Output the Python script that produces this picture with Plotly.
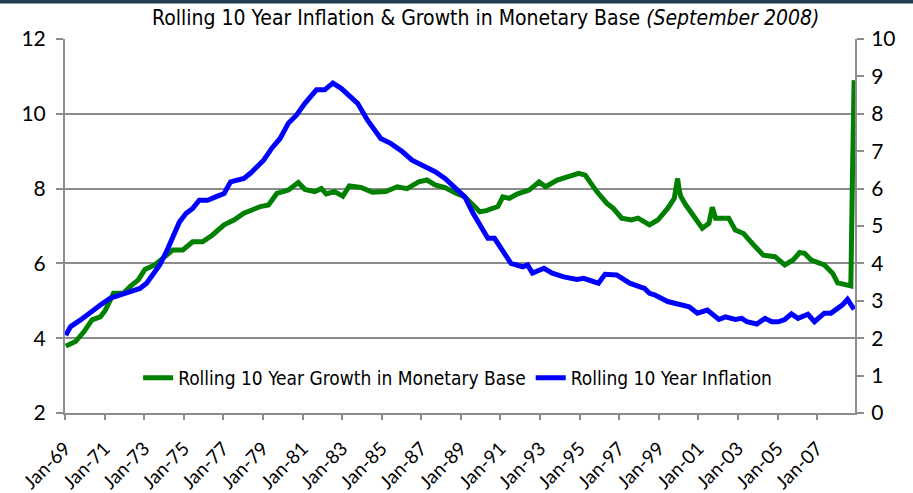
import pandas as pd
import plotly.graph_objects as go

# Rolling 10 Year Growth in Monetary Base (left axis, %)
base_months = ["1969-01","1969-07","1969-12","1970-05","1970-10","1971-01","1971-06","1971-12",
    "1972-04","1972-09","1973-01","1973-07","1973-12","1974-06","1974-12","1975-06","1975-12",
    "1976-06","1977-01","1977-07","1978-01","1978-06","1978-08","1978-11","1979-04","1979-09",
    "1980-04","1980-10","1981-02","1981-08","1981-12","1982-03","1982-08","1983-01","1983-05",
    "1983-12","1984-07","1985-03","1985-10","1986-04","1986-11","1987-04","1987-09","1988-03",
    "1988-09","1989-03","1989-08","1989-12","1990-04","1990-11","1991-02","1991-06","1991-11",
    "1992-06","1992-12","1993-04","1993-11","1994-06","1994-12","1995-04","1995-11","1996-05",
    "1996-09","1997-02","1997-08","1997-12","1998-03","1998-07","1998-12","1999-06","1999-10",
    "1999-12","2000-01","2000-02","2000-05","2000-11","2001-03","2001-07","2001-09","2001-11",
    "2002-07","2002-11","2003-04","2003-11","2004-04","2004-11","2005-05","2005-10","2006-02",
    "2006-05","2006-09","2007-05","2007-10","2008-01","2008-08","2008-09","2008-10","2008-11"]
base_growth = [3.79,3.91,4.17,4.49,4.57,4.75,5.20,5.20,
    5.38,5.56,5.84,5.96,6.14,6.36,6.36,6.58,6.58,
    6.76,7.03,7.16,7.34,7.43,7.47,7.52,7.56,7.87,
    7.96,8.16,7.98,7.92,8.00,7.86,7.92,7.80,8.07,
    8.03,7.90,7.92,8.05,8.00,8.18,8.23,8.10,8.03,
    7.89,7.78,7.56,7.38,7.41,7.52,7.78,7.74,7.86,
    7.96,8.18,8.05,8.23,8.34,8.41,8.36,7.92,7.61,
    7.47,7.21,7.16,7.21,7.12,7.03,7.16,7.47,7.74,
    8.27,7.95,7.78,7.56,7.16,6.94,7.07,7.50,7.21,
    7.21,6.89,6.80,6.45,6.22,6.18,5.96,6.09,6.29,
    6.27,6.09,5.96,5.74,5.48,5.38,5.40,8.30,10.90]

# Rolling 10 Year Inflation (right axis, %)
infl_months = ["1969-01","1969-04","1969-10","1970-04","1970-10","1971-04","1971-10","1972-04",
    "1972-10","1973-02","1973-07","1973-10","1974-02","1974-06","1974-10","1975-02","1975-06",
    "1975-10","1976-03","1976-09","1977-01","1977-05","1978-01","1978-05","1978-08","1978-11",
    "1979-01","1979-06","1979-11","1980-04","1980-09","1981-02","1981-09","1982-02","1982-07",
    "1982-12","1983-05","1983-10","1984-04","1984-12","1985-06","1986-01","1986-07","1987-03",
    "1987-09","1988-03","1988-06","1988-09","1989-03","1989-08","1990-01","1990-05","1990-09",
    "1991-02","1991-07","1992-02","1992-05","1992-08","1993-03","1993-08","1994-03","1994-11",
    "1995-03","1995-12","1996-04","1996-11","1997-07","1998-02","1998-04","1998-07","1998-10",
    "1999-06","1999-11","2000-03","2000-07","2000-12","2001-06","2002-01","2002-05","2002-11",
    "2003-03","2003-06","2003-12","2004-05","2004-09","2005-01","2005-05","2005-09","2006-01",
    "2006-07","2006-11","2007-05","2007-09","2008-04","2008-07","2008-11"]
inflation = [2.08,2.31,2.49,2.71,2.89,3.07,3.16,3.24,
    3.33,3.47,3.78,3.96,4.31,4.71,5.11,5.34,5.47,
    5.69,5.69,5.80,5.87,6.18,6.27,6.41,6.54,6.63,
    6.76,7.08,7.34,7.75,7.97,8.28,8.64,8.64,8.82,
    8.68,8.50,8.28,7.83,7.34,7.21,6.99,6.76,6.59,
    6.45,6.27,6.14,6.03,5.78,5.34,4.98,4.67,4.67,
    4.36,4.00,3.91,3.96,3.74,3.87,3.74,3.64,3.57,
    3.60,3.47,3.71,3.69,3.47,3.36,3.33,3.20,3.16,
    2.98,2.93,2.86,2.84,2.67,2.75,2.50,2.57,2.50,
    2.53,2.44,2.38,2.53,2.44,2.44,2.50,2.65,2.53,
    2.64,2.44,2.67,2.67,2.89,3.04,2.77]

def mid_month(months):
    return pd.to_datetime(months, format="%Y-%m") + pd.Timedelta(days=14)

TXT = "DejaVu Sans Condensed, Liberation Sans Narrow, sans-serif"
TICKF = "Lato, Open Sans, sans-serif"
GRID = "#8c8c8c"

fig = go.Figure()
fig.add_trace(go.Scatter(
    x=mid_month(base_months), y=base_growth, mode="lines",
    name="Rolling 10 Year Growth in Monetary Base",
    line=dict(color="#008000", width=5), yaxis="y"))
fig.add_trace(go.Scatter(
    x=mid_month(infl_months), y=inflation, mode="lines",
    name="Rolling 10 Year Inflation",
    line=dict(color="#0000ff", width=5), yaxis="y2"))

fig.update_layout(
    width=913, height=493,
    margin=dict(l=65, r=58, t=39, b=80, autoexpand=False),
    paper_bgcolor="white", plot_bgcolor="white",
    title=dict(
        text="Rolling 10 Year Inflation & Growth in Monetary Base <i>(September 2008)</i>",
        x=0.532, xref="container", xanchor="center",
        y=1 - 18 / 493, yref="container", yanchor="middle",
        font=dict(family=TXT, size=21, color="#000")),
    xaxis=dict(
        type="date", range=["1969-01-01", "2008-12-01"], automargin=False,
        tick0="1969-01-01", dtick="M24", tickformat="%b-%y",
        tickangle=-45, ticks="outside", ticklen=5, tickcolor=GRID, tickwidth=2,
        ticklabelstandoff=10,
        showline=True, linecolor=GRID, linewidth=2, showgrid=False, zeroline=False,
        tickfont=dict(family=TICKF, size=19, color="#000")),
    yaxis=dict(
        range=[2, 12], dtick=2, ticks="outside", ticklen=7, tickcolor=GRID, tickwidth=2,
        ticklabelstandoff=6, automargin=False,
        showline=True, linecolor=GRID, linewidth=2,
        showgrid=True, gridcolor=GRID, gridwidth=2, zeroline=False,
        tickfont=dict(family=TICKF, size=21, color="#000")),
    yaxis2=dict(
        range=[0, 10], dtick=1, overlaying="y", side="right", automargin=False,
        ticks="outside", ticklen=7, tickcolor=GRID, tickwidth=2,
        ticklabelstandoff=3,
        showline=True, linecolor=GRID, linewidth=2, showgrid=False, zeroline=False,
        tickfont=dict(family=TICKF, size=21, color="#000")),
    legend=dict(
        orientation="h", x=0.497, xanchor="center", y=(413 - 378) / 374, yanchor="middle",
        bgcolor="rgba(255,255,255,0)", font=dict(family=TXT, size=19, color="#000"),
        itemwidth=30),
    showlegend=True,
    shapes=[dict(type="rect", xref="paper", yref="paper",
                 x0=-65 / 790, x1=(913 - 65) / 790,
                 y0=1 + 35.5 / 374, y1=1 + 40 / 374,
                 fillcolor="#1e3d52", line=dict(width=0), layer="above")],
)

fig.write_html("out.html")
